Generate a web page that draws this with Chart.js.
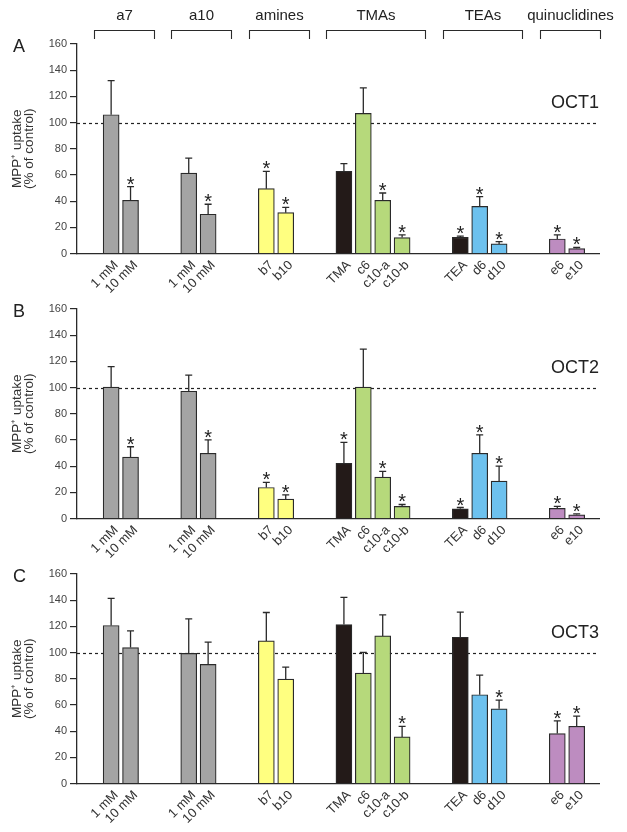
<!DOCTYPE html>
<html>
<head>
<meta charset="utf-8">
<script src="https://cdn.jsdelivr.net/npm/chart.js@4.4.0/dist/chart.umd.min.js"></script>
<style>
  html, body { margin: 0; padding: 0; background: #fff; }
  #wrap { position: relative; width: 627px; height: 832px; overflow: hidden; }
  canvas { position: absolute; left: 0; }
</style>
</head>
<body>
<div id="wrap">
  <canvas id="oct1" width="627" height="302" style="top:0px"></canvas>
  <canvas id="oct2" width="627" height="302" style="top:265px"></canvas>
  <canvas id="oct3" width="627" height="302" style="top:530px"></canvas>
</div>
<script>
Chart.defaults.font.family = "'Liberation Sans', Arial, sans-serif"
Chart.defaults.color = '#333'

// compound groups shown with brackets above panel A
const groups = ['a7', 'a10', 'amines', 'TMAs', 'TEAs', 'quinuclidines']
const groupSizes = [2, 2, 2, 4, 3, 2]

const labels = ['1 mM', '10 mM', '1 mM', '10 mM', 'b7', 'b10', 'TMA', 'c6', 'c10-a', 'c10-b', 'TEA', 'd6', 'd10', 'e6', 'e10']

const gray = '#a4a4a4', yellow = '#ffff80', black = '#231a18', green = '#b6d97b', blue = '#6dc1ee', purple = '#bd8cc0'
const barColors = [gray, gray, gray, gray, yellow, yellow, black, green, green, green, black, blue, blue, purple, purple]

// MPP+ uptake, % of control (mean, upper error, significance)
const oct1 = [106, 40.6, 61.4, 30, 49.5, 31.2, 62.7, 107, 40.6, 12.2, 12.4, 36, 7.3, 11.1, 3.8]
const oct1Err = [26, 10.4, 11.4, 7.6, 13.2, 4.1, 5.9, 19.5, 5.6, 2, 0.8, 7.4, 1.8, 3.1, 0.8]
const oct1Sig = [0, 1, 0, 1, 1, 1, 0, 0, 1, 1, 1, 1, 1, 1, 1]

const oct2 = [100.3, 46.9, 97.2, 49.8, 23.7, 14.8, 42.1, 100.3, 31.6, 9.2, 7.4, 49.8, 28.6, 7.7, 2.8]
const oct2Err = [15.7, 7.9, 12.3, 10.2, 3.9, 3.3, 16.1, 29.1, 4.4, 1.5, 1.0, 14, 11.4, 1.5, 0.7]
const oct2Sig = [0, 1, 0, 1, 1, 1, 1, 0, 1, 1, 1, 1, 1, 1, 1]

const oct3 = [120.7, 103.8, 99.4, 91, 108.9, 79.7, 121.4, 84.3, 112.7, 35.6, 111.7, 67.8, 57, 38.1, 43.7]
const oct3Err = [20.7, 12.7, 26.3, 16.9, 21.7, 9.2, 20.7, 15.9, 16.1, 8.1, 19.2, 15, 6.6, 9.7, 7.7]
const oct3Sig = [0, 0, 0, 0, 0, 0, 0, 0, 0, 1, 0, 0, 1, 1, 1]

// slot index of each bar, two empty slots between groups
const positions = []
const groupSpans = []
let slot = 0
groupSizes.forEach(n => {
    groupSpans.push([slot, slot + n - 1])
    for (let k = 0; k < n; k++) positions.push(slot++)
    slot += 2
})

const decor = {
    id: 'decor',
    beforeDatasetsDraw(chart) {
        const { ctx, chartArea: a, scales: { y } } = chart
        const yy = Math.round(y.getPixelForValue(100)) + 0.5
        ctx.save()
        ctx.setLineDash([3, 3])
        ctx.strokeStyle = '#222'
        ctx.lineWidth = 1.2
        ctx.beginPath()
        ctx.moveTo(a.left, yy)
        ctx.lineTo(a.right, yy)
        ctx.stroke()
        ctx.restore()
    },
    afterDatasetsDraw(chart, args, opts) {
        const { ctx, chartArea: a, scales: { x, y } } = chart
        const ds = chart.data.datasets[0]
        const meta = chart.getDatasetMeta(0)
        ctx.save()
        ctx.strokeStyle = '#2a2a2a'
        ctx.fillStyle = '#222'
        ctx.lineWidth = 1.3
        meta.data.forEach((bar, i) => {
            const top = y.getPixelForValue(ds.data[i].y + opts.err[i])
            ctx.beginPath()
            ctx.moveTo(bar.x, bar.y)
            ctx.lineTo(bar.x, top)
            ctx.moveTo(bar.x - 3.5, top)
            ctx.lineTo(bar.x + 3.5, top)
            ctx.stroke()
            if (opts.sig[i]) {
                ctx.font = "20px 'Liberation Sans', Arial"
                ctx.textAlign = 'center'
                ctx.textBaseline = 'alphabetic'
                ctx.fillText('*', bar.x, top + 4)
            }
        })

        // panel letter and transporter name
        ctx.font = "18px 'Liberation Sans', Arial"
        ctx.textAlign = 'left'
        ctx.fillText(opts.letter, 13, a.top + 8)
        ctx.textAlign = 'right'
        ctx.fillText(opts.name, a.right, y.getPixelForValue(111))

        if (opts.showGroups) {
            ctx.lineWidth = 1.1
            ctx.font = "15px 'Liberation Sans', Arial"
            ctx.textAlign = 'center'
            groupSpans.forEach(([s, e], g) => {
                const x0 = Math.round(x.getPixelForValue(s - 0.9)) + 0.5
                const x1 = Math.round(x.getPixelForValue(e + 1.2)) + 0.5
                ctx.beginPath()
                ctx.moveTo(x0, 39)
                ctx.lineTo(x0, 30.5)
                ctx.lineTo(x1, 30.5)
                ctx.lineTo(x1, 39)
                ctx.stroke()
                ctx.fillText(groups[g], (x0 + x1) / 2, 20)
            })
        }
        ctx.restore()
    }
}

function makePanel(id, letter, name, values, err, sig, showGroups) {
    return new Chart(document.getElementById(id), {
        type: 'bar',
        data: {
            datasets: [{
                data: values.map((v, i) => ({ x: positions[i], y: v })),
                backgroundColor: barColors,
                borderColor: '#2a2a2a',
                borderWidth: 1.2,
                barThickness: 16
            }]
        },
        options: {
            responsive: false,
            animation: false,
            devicePixelRatio: 1,
            layout: { padding: { top: 44, right: 28, left: 0, bottom: 0 } },
            plugins: {
                legend: { display: false },
                tooltip: { enabled: false },
                decor: { letter, name, err, sig, showGroups }
            },
            scales: {
                x: {
                    type: 'linear',
                    min: -1.76,
                    max: 25.15,
                    offset: false,
                    afterFit: s => { s.height = 48.5 },
                    afterBuildTicks: s => { s.ticks = positions.map(v => ({ value: v })) },
                    grid: { display: false, drawTicks: false, offset: false },
                    border: { display: true, color: '#2a2a2a', width: 1.3 },
                    ticks: {
                        autoSkip: false,
                        minRotation: 45,
                        maxRotation: 45,
                        padding: 4,
                        labelOffset: 5,
                        color: '#333',
                        font: { size: 13 },
                        callback: v => labels[positions.indexOf(v)] ?? ''
                    }
                },
                y: {
                    min: 0,
                    max: 160,
                    afterFit: s => { s.width = 77 },
                    ticks: { stepSize: 20, padding: 3, color: '#444', font: { size: 11 } },
                    grid: { drawOnChartArea: false, drawTicks: true, tickLength: 7, color: '#2a2a2a', lineWidth: 1.2 },
                    border: { display: true, color: '#2a2a2a', width: 1.3 },
                    title: {
                        display: true,
                        text: ['MPP⁺ uptake', '(% of control)'],
                        color: '#333',
                        font: { size: 13.5, lineHeight: 0.88 },
                        padding: { top: 11, bottom: 0 }
                    }
                }
            }
        },
        plugins: [decor]
    })
}

makePanel('oct1', 'A', 'OCT1', oct1, oct1Err, oct1Sig, true)
makePanel('oct2', 'B', 'OCT2', oct2, oct2Err, oct2Sig, false)
makePanel('oct3', 'C', 'OCT3', oct3, oct3Err, oct3Sig, false)
</script>
</body>
</html>
